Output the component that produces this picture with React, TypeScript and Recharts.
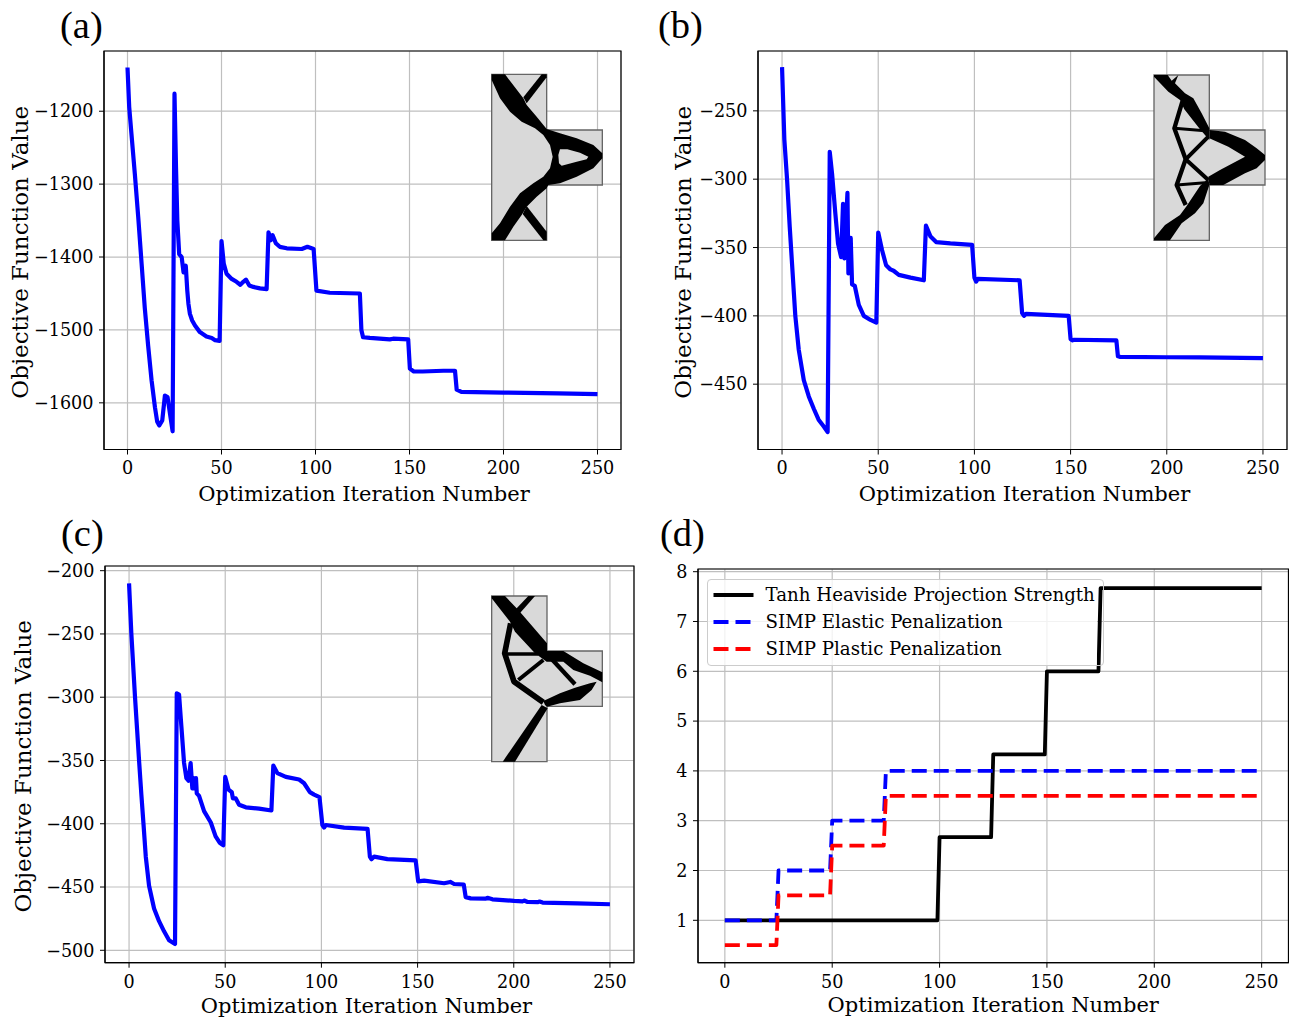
import { CartesianGrid, Legend, Line, LineChart, ReferenceArea, XAxis, YAxis } from 'recharts';

const serif = '"DejaVu Serif", serif';
const GRID = '#bfbfbf';
const X_LABEL = 'Optimization Iteration Number';
const Y_LABEL = 'Objective Function Value';
const xTicks = [0, 50, 100, 150, 200, 250];

// panel (a)
const iterA = [0, 0.9, 2.1, 3.9, 5.7, 7.5, 9.2, 11, 12.8, 14.6, 15.8, 16.9, 18.5, 19.9, 21.3, 22.6, 24, 25, 25.8, 26.5, 27.5, 28.8, 29.8, 31, 31.8, 32.4, 33.2, 34.4, 35.9, 38.5, 42, 44.8, 46.6, 49, 50, 51.2, 52.7, 55.4, 58, 60, 61.6, 63, 64.8, 67, 70.5, 74, 75, 76.2, 77.2, 78.9, 81, 84.7, 92.7, 95.7, 99, 100.5, 107.6, 123.6, 124.4, 125.3, 128.9, 139.5, 141.3, 149.3, 150.2, 152.3, 157, 168, 174.2, 175.1, 177.6, 200, 229, 250];
const lossA = [-1140, -1194, -1231, -1286, -1345, -1409, -1470, -1522, -1569, -1606, -1626, -1631, -1624, -1590, -1592, -1615, -1639, -1176, -1277, -1350, -1396, -1400, -1421, -1412, -1446, -1464, -1478, -1487, -1494, -1503, -1509, -1511, -1514, -1515, -1378, -1409, -1423, -1430, -1434, -1438, -1434, -1431, -1439, -1441, -1443, -1444, -1366, -1377, -1370, -1381, -1386, -1388, -1389, -1386, -1389, -1446, -1449, -1450, -1500, -1510, -1511, -1513, -1512, -1513, -1553, -1557, -1557, -1556, -1556, -1582, -1585, -1586, -1587, -1588];
const yTicksA = [-1600, -1500, -1400, -1300, -1200];

// panel (b)
const iterB = [0, 1.2, 2.6, 4, 5.2, 6.9, 8.7, 11.3, 13.9, 16.5, 19, 21.7, 23.7, 24.8, 26, 27.7, 29.1, 30.7, 31.7, 32.4, 34, 34.5, 35.7, 36.4, 37.8, 39.9, 42.5, 46, 49, 50, 52, 54.1, 56.3, 58, 60.7, 66.8, 73.7, 74.8, 77.2, 80.1, 87.5, 98.8, 100, 100.9, 101.7, 123.5, 124.8, 125.8, 126.8, 149, 150, 150.9, 151.6, 173.8, 174.6, 175.8, 200, 217, 250];
const lossB = [-218, -271, -300, -335, -362, -400, -425, -447, -459, -468, -476, -481, -485, -280, -296, -325, -347, -357, -318, -358, -310, -369, -343, -377, -378, -392, -400, -403, -405, -339, -352, -363, -366, -367, -370, -372, -374, -334, -342, -346, -347, -348, -372, -375, -373, -374, -398, -400, -398.5, -400, -417, -418, -417.5, -418, -429.6, -430, -430.3, -430.4, -431];
const yTicksB = [-450, -400, -350, -300, -250];

// panel (c)
const iterC = [0, 1.2, 3.1, 4.2, 5.2, 6.4, 7.5, 8.7, 10.4, 13, 15.6, 18.2, 20.8, 23.9, 24.8, 26, 27.2, 28.6, 29.8, 30.9, 32, 32.9, 33.8, 34.3, 34.8, 35.2, 36.4, 39, 42.5, 45, 47.1, 49, 50, 51.7, 53.4, 54, 55.5, 57.2, 60.7, 67.6, 74, 75, 77.1, 81.5, 88.4, 91, 94, 96.2, 99, 100.5, 101.4, 102.3, 111.8, 124, 125.2, 126, 127.4, 134.3, 149, 150.3, 153.4, 163.8, 167, 169, 174, 175, 177.6, 185.4, 186.3, 188.9, 200.2, 204.5, 205.4, 207.2, 212.4, 213.4, 215, 233, 250];
const lossC = [-210, -250, -300, -326, -350, -377, -400, -426, -449, -467, -477, -485, -492, -495, -297, -298, -323, -352, -364, -366, -352, -372, -364, -372, -364, -376, -378, -390, -399, -410, -415, -417, -363, -373, -375, -380, -380, -385, -387, -388, -389.5, -354, -360, -363, -365, -368, -375, -377, -379, -401, -403, -401, -403, -404, -426, -428, -426, -428, -429, -445.5, -445, -447, -446, -447.6, -448, -458, -459, -459.2, -458.5, -459.7, -461, -461.3, -460.7, -461.8, -462, -461.5, -462.3, -463, -463.6];
const yTicksC = [-500, -450, -400, -350, -300, -250, -200];

// panel (d)
const iterD = [0, 24, 25, 49, 50, 74, 75, 99, 100, 124, 125, 149, 150, 174, 175, 250];
const heaviside = [1, 1, 1, 1, 1, 1, 1, 1, 2.67, 2.67, 4.33, 4.33, 6, 6, 7.67, 7.67];
const simpElastic = [1, 1, 2, 2, 3, 3, 4, 4, 4, 4, 4, 4, 4, 4, 4, 4];
const simpPlastic = [0.5, 0.5, 1.5, 1.5, 2.5, 2.5, 3.5, 3.5, 3.5, 3.5, 3.5, 3.5, 3.5, 3.5, 3.5, 3.5];
const yTicksD = [1, 2, 3, 4, 5, 6, 7, 8];

const tickStyle = { fontFamily: serif, fontSize: 17.6, fill: '#000' };
const xLabelStyle = { fontFamily: serif, fontSize: 21, fill: '#000' };
const yLabelStyle = { fontFamily: serif, fontSize: 23, fill: '#000', textAnchor: 'middle' };

const fmt = (v: number) => String(v).replace('-', '\u2212');

function Frame({ x, y }: { x: number[]; y: number[] }) {
  return <ReferenceArea x1={x[0]} x2={x[1]} y1={y[0]} y2={y[1]} fill="none" stroke="#000" strokeWidth={1.2} ifOverflow="visible" />;
}

function LossPanel({ iter, loss, yTicks, yDomain, plot, labelX, xLabelDx, xLabelGap }: {
  iter: number[]; loss: number[]; yTicks: number[]; yDomain: number[];
  plot: { left: number; right: number; top: number; bottom: number };
  labelX: number; xLabelDx: number; xLabelGap: number;
}) {
  const table = iter.map((it, i) => ({ it, loss: loss[i] }));
  const axisW = 100;
  return (
    <div style={{ position: 'absolute', left: plot.left - axisW, top: plot.top - 8 }}>
      <LineChart
        width={plot.right - plot.left + axisW + 2}
        height={plot.bottom - plot.top + 8 + 60}
        data={table}
        margin={{ top: 8, right: 2, bottom: 0, left: 0 }}
      >
        <CartesianGrid stroke={GRID} strokeWidth={1.2} />
        <XAxis
          dataKey="it"
          type="number"
          domain={[-12.5, 262.5]}
          ticks={xTicks}
          height={60}
          tick={tickStyle}
          tickSize={5}
          tickMargin={7.5}
          stroke="#000"
          label={{ value: X_LABEL, position: 'insideBottom', offset: 54 - xLabelGap, dx: xLabelDx, style: xLabelStyle }}
        />
        <YAxis
          type="number"
          domain={yDomain}
          ticks={yTicks}
          width={axisW}
          tick={tickStyle}
          tickSize={5}
          tickMargin={5.5}
          tickFormatter={fmt}
          stroke="#000"
          label={{ value: Y_LABEL, angle: -90, position: { x: labelX - plot.left + axisW + 8, y: (plot.bottom - plot.top) / 2 + 2 }, style: yLabelStyle }}
        />
        <Line dataKey="loss" type="linear" stroke="#0000ff" strokeWidth={4.2} strokeLinejoin="round" dot={false} isAnimationActive={false} />
        <Frame x={[-12.5, 262.5]} y={yDomain} />
      </LineChart>
    </div>
  );
}

function ScheduleLegend({ payload }: any) {
  return (
    <div style={{ boxSizing: 'border-box', width: 397, height: 87, background: 'linear-gradient(to right, rgba(255,255,255,0.8) 389px, transparent 389px)', border: '1px solid #cccccc', borderRadius: 4, fontFamily: serif, fontSize: 18.2, color: '#000', paddingTop: 1 }}>
      {(payload ?? []).map((p: any) => (
        <div key={p.value} style={{ height: 27, display: 'flex', alignItems: 'center', whiteSpace: 'nowrap' }}>
          <svg width={58} height={10} style={{ flex: 'none' }}>
            <line x1={5.5} x2={45.5} y1={5} y2={5} stroke={p.color} strokeWidth={3.8} strokeDasharray={p.payload?.strokeDasharray} />
          </svg>
          <span>{p.value}</span>
        </div>
      ))}
    </div>
  );
}

function SchedulePanel() {
  const table = iterD.map((it, i) => ({ it, heaviside: heaviside[i], elastic: simpElastic[i], plastic: simpPlastic[i] }));
  const plot = { left: 697.5, right: 1288, top: 569, bottom: 962.7 };
  const yDomain = [0.149, 8.054];
  const axisW = 40;
  return (
    <div style={{ position: 'absolute', left: plot.left - axisW, top: plot.top - 8 }}>
      <LineChart width={plot.right - plot.left + axisW + 1} height={plot.bottom - plot.top + 8 + 56} data={table} margin={{ top: 8, right: 1, bottom: 0, left: 0 }}>
        <CartesianGrid stroke={GRID} strokeWidth={1.2} />
        <XAxis
          dataKey="it"
          type="number"
          domain={[-12.5, 262.5]}
          ticks={xTicks}
          height={56}
          tick={tickStyle}
          tickSize={5}
          tickMargin={7.5}
          stroke="#000"
          label={{ value: X_LABEL, position: 'insideBottom', offset: 6.5, style: xLabelStyle }}
        />
        <YAxis type="number" domain={yDomain} ticks={yTicksD} width={axisW} tick={tickStyle} tickSize={5} tickMargin={5.5} stroke="#000" />
        <Line dataKey="heaviside" name="Tanh Heaviside Projection Strength" type="linear" stroke="#000" strokeWidth={3.8} strokeLinejoin="round" dot={false} isAnimationActive={false} />
        <Line dataKey="elastic" name="SIMP Elastic Penalization" type="linear" stroke="#0000ff" strokeWidth={3.8} strokeDasharray="15 7" strokeLinejoin="round" dot={false} isAnimationActive={false} />
        <Line dataKey="plastic" name="SIMP Plastic Penalization" type="linear" stroke="#ff0000" strokeWidth={3.8} strokeDasharray="15 7" strokeLinejoin="round" dot={false} isAnimationActive={false} />
        <Legend
          content={<ScheduleLegend />}
          layout="horizontal"
          verticalAlign="middle"
          itemSorter={null}
          wrapperStyle={{ left: 49, top: 18, width: 397, bottom: 'auto' }}
        />
        <Frame x={[-12.5, 262.5]} y={yDomain} />
      </LineChart>
    </div>
  );
}

const GRAY = '#d9d9d9';

// inset shapes, drawn in their own little 405x570 space
function Inset({ left, top, outline, children }: { left: number; top: number; outline: string; children: any }) {
  return (
    <svg viewBox="0 0 405 570" width={135} height={190} style={{ position: 'absolute', left, top }}>
      <path d={outline} fill={GRAY} stroke="#666" strokeWidth={4} />
      {children}
    </svg>
  );
}

function InsetA() {
  return (
    <Inset left={480} top={60} outline="M35 43H200V210H367V375H200V541H35Z">
      <path d="M35 60L60 115L90 155L125 185L165 205L190 225L210 255L218 290L210 325L190 350L160 370L120 400L90 440L60 490L35 520V541H75L100 500L125 465L140 440L170 410L200 385L205 375L240 370L290 350L340 325L367 295V280L340 255L290 235L240 220L200 207L170 170L140 135L130 115L75 43H35Z" fill="#000" />
      <path d="M235 285L240 268H262L300 278L325 290L320 298L290 305L245 317L237 310Z" fill={GRAY} />
      <path d="M130 112L185 43H200V52L140 130Z" fill="#000" />
      <path d="M140 438L200 515V541H190L128 462Z" fill="#000" />
    </Inset>
  );
}

function InsetB() {
  return (
    <Inset left={1145} top={60} outline="M27 45H193V210H360V375H193V541H27Z">
      <path d="M27 45H68L80 62L100 45L90 70L120 100L145 115L170 160L193 205V240L165 208L118 148L105 120L70 95L27 50Z" fill="#000" />
      <path d="M193 210L240 215L300 240L335 265L360 285V300L335 325L300 340L235 375H193L190 350L225 330L300 290L250 260L193 235Z" fill="#000" />
      <path d="M193 375L175 430L150 460L110 490L75 541H27V535L60 495L105 465L125 438L165 378L190 355Z" fill="#000" />
      <g fill="none" stroke="#000" strokeLinejoin="round">
        <path d="M112 125L88 205L122 298L95 375L122 435" strokeWidth={13} />
        <path d="M190 230L122 298L190 360" strokeWidth={12} />
        <path d="M88 205L180 212" strokeWidth={9} />
        <path d="M95 375L180 368" strokeWidth={9} />
      </g>
    </Inset>
  );
}

function InsetC() {
  return (
    <Inset left={480} top={585} outline="M35 33H201V198H367V364H201V530H35Z">
      <path d="M35 33H75L115 75L201 175V198H250L310 235L367 262V292L330 272L280 255L250 230H200L165 205L105 140L90 110L35 40Z" fill="#000" />
      <path d="M165 33H145L105 75L115 90Z" fill="#000" />
      <path d="M190 348L240 325L285 308L330 295L350 290L335 315L300 345L240 355L201 365L195 360Z" fill="#000" />
      <path d="M185 360L203 370L105 530H68Z" fill="#000" />
      <g fill="none" stroke="#000" strokeLinejoin="round">
        <path d="M92 115L74 205L102 290L190 352" strokeWidth={17} />
        <path d="M75 207H175" strokeWidth={10} />
        <path d="M190 225L115 285" strokeWidth={12} />
        <path d="M215 222L285 298" strokeWidth={13} />
      </g>
      <path d="M270 265L290 262L330 285L320 295L295 295Z" fill={GRAY} />
    </Inset>
  );
}

const panelTags = [
  { tag: '(a)', left: 60, top: 4 },
  { tag: '(b)', left: 658, top: 4 },
  { tag: '(c)', left: 61, top: 512 },
  { tag: '(d)', left: 660, top: 512 },
];

export default function App() {
  return (
    <div style={{ position: 'absolute', left: 0, top: 0, width: 1289, height: 1019, overflow: 'hidden', background: '#fff' }}>
      <LossPanel iter={iterA} loss={lossA} yTicks={yTicksA} yDomain={[-1664, -1117.4]} plot={{ left: 104, right: 621, top: 50.5, bottom: 449 }} labelX={20} xLabelDx={1.5} xLabelGap={45} />
      <LossPanel iter={iterB} loss={lossB} yTicks={yTicksB} yDomain={[-497.8, -206.2]} plot={{ left: 757.5, right: 1286.5, top: 50.5, bottom: 449 }} labelX={682} xLabelDx={2} xLabelGap={45} />
      <LossPanel iter={iterC} loss={lossC} yTicks={yTicksC} yDomain={[-509.8, -196.3]} plot={{ left: 104.5, right: 633.5, top: 566, bottom: 962.7 }} labelX={22} xLabelDx={-3} xLabelGap={44.5} />
      <SchedulePanel />
      <InsetA />
      <InsetB />
      <InsetC />
      {panelTags.map(p => (
        <div key={p.tag} style={{ position: 'absolute', left: p.left, top: p.top, fontFamily: '"Liberation Serif", serif', fontSize: 38.5, lineHeight: '42px', color: '#000' }}>{p.tag}</div>
      ))}
    </div>
  );
}
